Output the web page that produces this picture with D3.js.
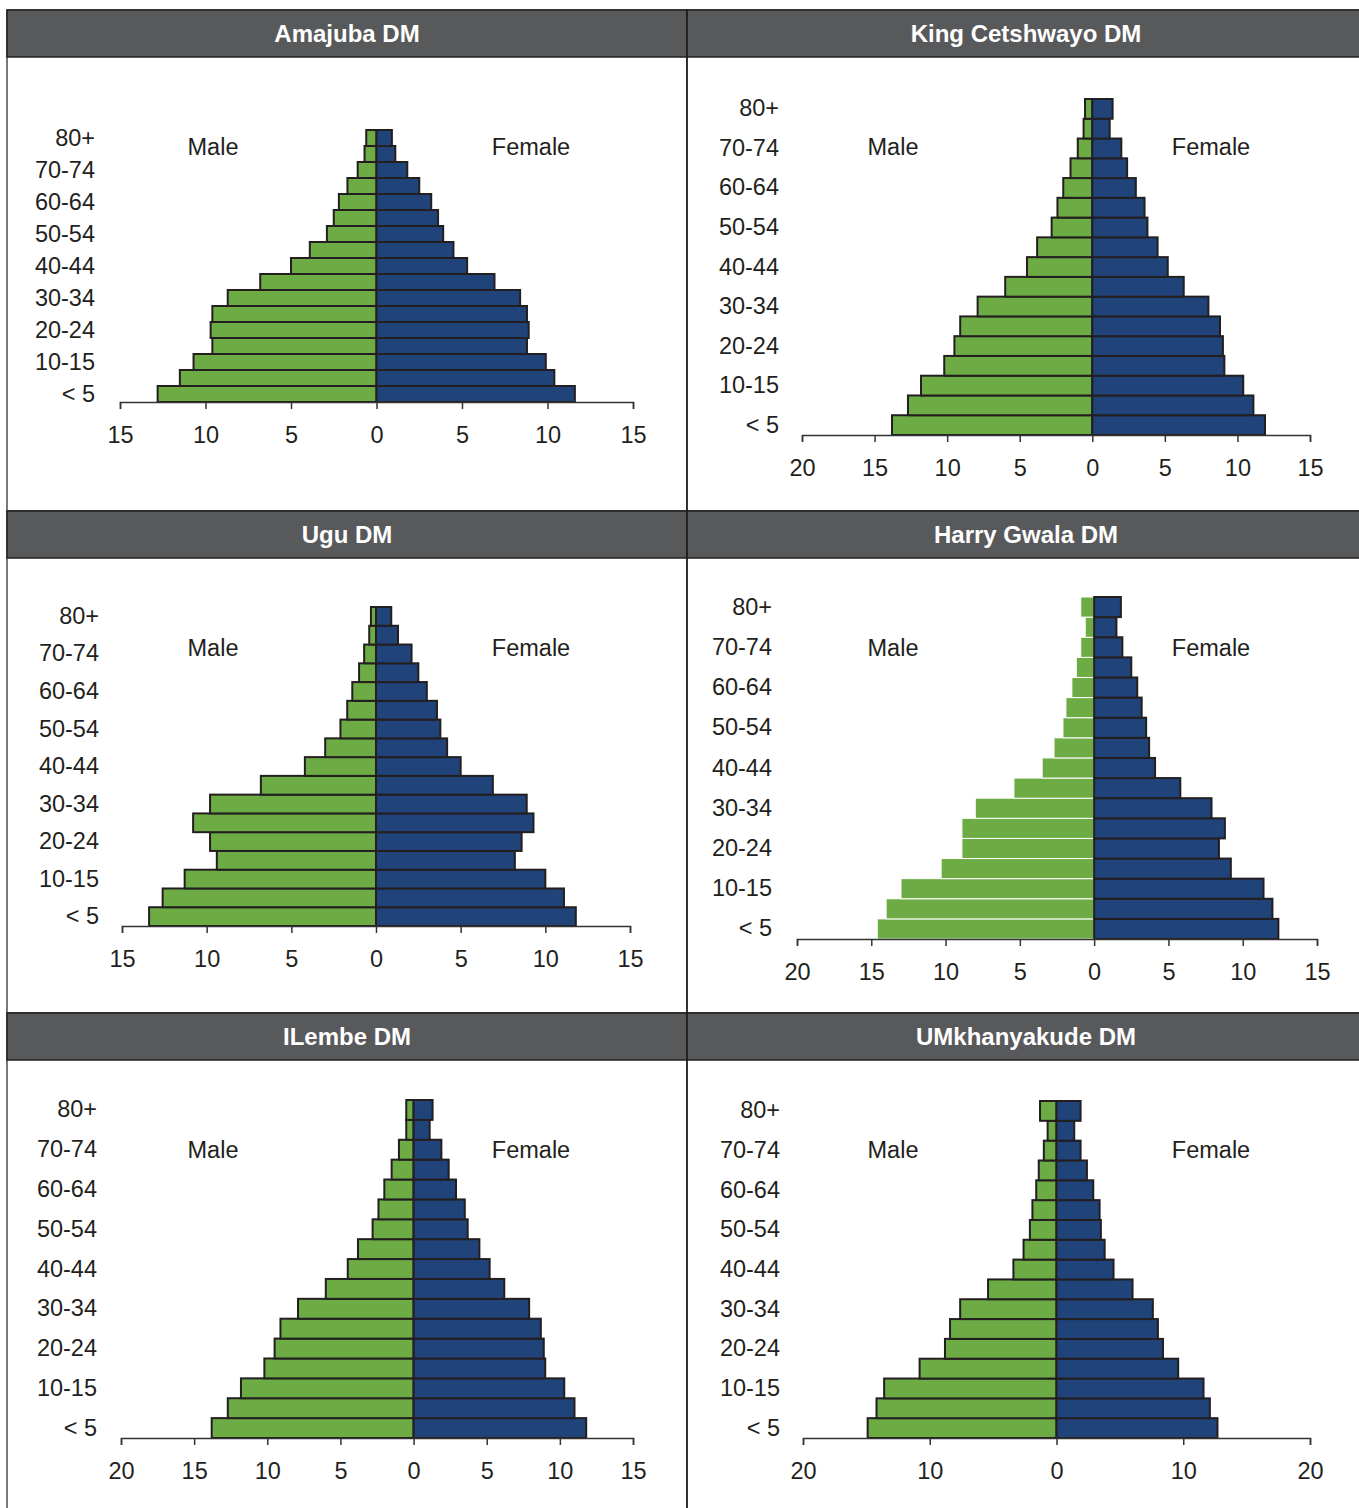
<!DOCTYPE html>
<html>
<head>
<meta charset="utf-8">
<script src="https://cdn.jsdelivr.net/npm/d3@7"></script>
<style>
	body { margin: 0; background: #fff; }
	svg { display: block; font-family: 'Liberation Sans', Arial, sans-serif; }
</style>
</head>
<body>
<div id="chart"></div>
<script>
// age groups, bottom (< 5) to top (80+)
const ageGroups = ['< 5', '5-9', '10-15', '15-19', '20-24', '25-29', '30-34', '35-39', '40-44',
	'45-49', '50-54', '55-59', '60-64', '65-69', '70-74', '75-79', '80+'];

// percent of population, same order as ageGroups
const amajubaMale = [12.8, 11.5, 10.7, 9.6, 9.7, 9.6, 8.7, 6.8, 5.0, 3.9, 2.9, 2.5, 2.2, 1.7, 1.1, 0.7, 0.6];
const amajubaFemale = [11.6, 10.4, 9.9, 8.8, 8.9, 8.8, 8.4, 6.9, 5.3, 4.5, 3.9, 3.6, 3.2, 2.5, 1.8, 1.1, 0.9];
const kingCetshwayoMale = [13.8, 12.7, 11.8, 10.2, 9.5, 9.1, 7.9, 6.0, 4.5, 3.8, 2.8, 2.4, 2.0, 1.5, 1.0, 0.6, 0.5];
const kingCetshwayoFemale = [11.9, 11.1, 10.4, 9.1, 9.0, 8.8, 8.0, 6.3, 5.2, 4.5, 3.8, 3.6, 3.0, 2.4, 2.0, 1.2, 1.4];
const uguMale = [13.4, 12.6, 11.3, 9.4, 9.8, 10.8, 9.8, 6.8, 4.2, 3.0, 2.1, 1.7, 1.4, 1.0, 0.7, 0.4, 0.3];
const uguFemale = [11.8, 11.1, 10.0, 8.2, 8.6, 9.3, 8.9, 6.9, 5.0, 4.2, 3.8, 3.6, 3.0, 2.5, 2.1, 1.3, 0.9];
const harryGwalaMale = [14.6, 14.0, 13.0, 10.3, 8.9, 8.9, 8.0, 5.4, 3.5, 2.7, 2.1, 1.9, 1.5, 1.2, 0.9, 0.6, 0.9];
const harryGwalaFemale = [12.4, 12.0, 11.4, 9.2, 8.4, 8.8, 7.9, 5.8, 4.1, 3.7, 3.5, 3.2, 2.9, 2.5, 1.9, 1.5, 1.8];
const ilembeMale = [13.8, 12.7, 11.8, 10.2, 9.5, 9.1, 7.9, 6.0, 4.5, 3.8, 2.8, 2.4, 2.0, 1.5, 1.0, 0.5, 0.5];
const ilembeFemale = [11.8, 11.0, 10.3, 9.0, 8.9, 8.7, 7.9, 6.2, 5.2, 4.5, 3.7, 3.5, 2.9, 2.4, 1.9, 1.1, 1.3];
const umkhanyakudeMale = [14.9, 14.2, 13.6, 10.8, 8.8, 8.4, 7.6, 5.4, 3.4, 2.6, 2.1, 1.9, 1.6, 1.4, 1.0, 0.7, 1.3];
const umkhanyakudeFemale = [12.7, 12.1, 11.6, 9.6, 8.4, 8.0, 7.6, 6.0, 4.5, 3.8, 3.5, 3.4, 2.9, 2.4, 1.9, 1.4, 1.9];

const districts = ['Amajuba DM', 'King Cetshwayo DM', 'Ugu DM', 'Harry Gwala DM', 'ILembe DM', 'UMkhanyakude DM'];
const maleSeries = [amajubaMale, kingCetshwayoMale, uguMale, harryGwalaMale, ilembeMale, umkhanyakudeMale];
const femaleSeries = [amajubaFemale, kingCetshwayoFemale, uguFemale, harryGwalaFemale, ilembeFemale, umkhanyakudeFemale];

// axis extents per panel (left side is male)
const axisMin = [15, 20, 15, 20, 20, 20];
const axisMax = [15, 15, 15, 15, 15, 20];
const axisStep = [5, 5, 5, 5, 5, 10];

// layout of each panel, in page pixels
const layout = [
	{ col: 0, row: 0, x0: 120, x1: 633, top: 130, bottom: 402, labelX: 95 },
	{ col: 1, row: 0, x0: 802, x1: 1310, top: 99, bottom: 435, labelX: 779 },
	{ col: 0, row: 1, x0: 122, x1: 630, top: 607, bottom: 926, labelX: 99 },
	{ col: 1, row: 1, x0: 797, x1: 1317, top: 597, bottom: 939, labelX: 772, noMaleStroke: true },
	{ col: 0, row: 2, x0: 121, x1: 633, top: 1100, bottom: 1438, labelX: 97 },
	{ col: 1, row: 2, x0: 803, x1: 1310, top: 1101, bottom: 1438, labelX: 780 }
];

const W = 1359, H = 1508;
const colX = [7, 687, 1359];
const headerY = [10, 511, 1013];
const headerH = 47;
const sexLabelY = [147, 648, 1150];
const fontSize = '23.5px';
const green = '#6dac45';
const blue = '#20437a';
const ink = '#231f20';

const svg = d3.select('#chart').append('svg')
	.attr('width', W)
	.attr('height', H);

// panel frames and headers
const frames = svg.append('g');
for (let r = 0; r < 3; r++) {
	for (let c = 0; c < 2; c++) {
		const x0 = colX[c];
		const x1 = colX[c + 1];
		const y1 = r < 2 ? headerY[r + 1] : H + 2;
		frames.append('rect')
			.attr('x', x0)
			.attr('y', headerY[r])
			.attr('width', x1 - x0 + (c === 1 ? 3 : 0))
			.attr('height', y1 - headerY[r])
			.style('fill', 'white')
			.style('stroke', '#4d4d4f')
			.style('stroke-width', 1.5);
	}
}
for (let r = 0; r < 3; r++) {
	for (let c = 0; c < 2; c++) {
		const x0 = colX[c];
		const x1 = colX[c + 1];
		frames.append('rect')
			.attr('x', x0)
			.attr('y', headerY[r])
			.attr('width', x1 - x0 + (c === 1 ? 3 : 0))
			.attr('height', headerH)
			.style('fill', '#58595b')
			.style('stroke', ink)
			.style('stroke-width', 1.5);
		frames.append('text')
			.attr('x', (x0 + x1) / 2 + (c === 1 ? 3 : 0))
			.attr('y', headerY[r] + headerH / 2 + 8)
			.style('fill', 'white')
			.style('font-size', '24px')
			.style('font-weight', 700)
			.style('text-anchor', 'middle')
			.text(districts[r * 2 + c]);
	}
}
frames.append('line')
	.attr('x1', colX[1]).attr('x2', colX[1])
	.attr('y1', headerY[0]).attr('y2', H)
	.style('stroke', ink)
	.style('stroke-width', 1.5);

// one pyramid per district
layout.forEach((p, i) => {
	const male = maleSeries[i];
	const female = femaleSeries[i];
	const offX = colX[p.col];

	const x = d3.scaleLinear()
		.domain([-axisMin[i], axisMax[i]])
		.range([p.x0, p.x1]);
	const y = d3.scaleBand()
		.domain(ageGroups.slice().reverse())
		.range([p.top, p.bottom])
		.padding(0);

	const g = svg.append('g');

	const rows = ageGroups.map((a, k) => ({ age: a, male: male[k], female: female[k] }));

	g.selectAll('.male')
		.data(rows)
		.enter().append('rect')
		.attr('class', 'male')
		.attr('x', d => x(-d.male))
		.attr('y', d => y(d.age))
		.attr('width', d => x(0) - x(-d.male))
		.attr('height', y.bandwidth())
		.style('fill', green)
		.style('stroke', p.noMaleStroke ? 'white' : ink)
		.style('stroke-width', p.noMaleStroke ? 1 : 2);

	g.selectAll('.female')
		.data(rows)
		.enter().append('rect')
		.attr('class', 'female')
		.attr('x', x(0))
		.attr('y', d => y(d.age))
		.attr('width', d => x(d.female) - x(0))
		.attr('height', y.bandwidth())
		.style('fill', blue)
		.style('stroke', ink)
		.style('stroke-width', 2);

	// x axis, absolute values on both sides
	const ticks = d3.range(-axisMin[i], axisMax[i] + 0.001, axisStep[i]);
	const xAxis = d3.axisBottom(x)
		.tickValues(ticks)
		.tickSize(7)
		.tickSizeOuter(7)
		.tickPadding(17)
		.tickFormat(d => Math.abs(d));
	const xAxisG = g.append('g')
		.attr('transform', `translate(0, ${p.bottom})`)
		.call(xAxis);
	xAxisG.selectAll('path, line')
		.style('stroke', '#333')
		.style('stroke-width', 1.5);
	xAxisG.selectAll('text')
		.style('font-size', fontSize)
		.style('font-family', "'Liberation Sans', Arial, sans-serif")
		.style('fill', ink);

	// age labels, every other group
	const yAxis = d3.axisLeft(y)
		.tickValues(ageGroups.filter((a, k) => k % 2 === 0))
		.tickSize(0)
		.tickPadding(0);
	const yAxisG = g.append('g')
		.attr('transform', `translate(${p.labelX}, 0)`)
		.call(yAxis);
	yAxisG.select('.domain').remove();
	yAxisG.selectAll('text')
		.style('font-size', fontSize)
		.style('font-family', "'Liberation Sans', Arial, sans-serif")
		.style('fill', ink);

	// sex labels
	g.append('text')
		.attr('x', offX + 206)
		.attr('y', sexLabelY[p.row] + 8)
		.style('font-size', fontSize)
		.style('text-anchor', 'middle')
		.style('fill', ink)
		.text('Male');
	g.append('text')
		.attr('x', offX + 524)
		.attr('y', sexLabelY[p.row] + 8)
		.style('font-size', fontSize)
		.style('text-anchor', 'middle')
		.style('fill', ink)
		.text('Female');
});
</script>
</body>
</html>
